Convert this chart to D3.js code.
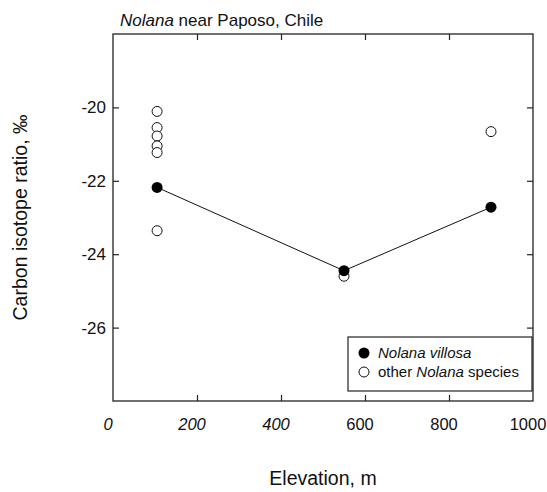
<!DOCTYPE html>
<html lang="en">
<head>
<meta charset="utf-8">
<title>Nolana near Paposo</title>
<script src="https://cdn.jsdelivr.net/npm/d3@7"></script>
<style>
  body { margin: 0; background: #fff; }
  text { font-family: "Liberation Sans", Arial, sans-serif; fill: #111; }
  .frame { fill: none; stroke: #222; stroke-width: 1.3px; }
  .tick line { stroke: #222; stroke-width: 1.2px; }
</style>
</head>
<body>
<script>

// elevation (m) and carbon isotope ratio (per mil)
var villosaElev = [105, 550, 900];
var villosaD13C = [-22.18, -24.45, -22.72];

var otherElev = [105, 105, 105, 105, 105, 105, 550, 900];
var otherD13C = [-20.11, -20.55, -20.78, -21.05, -21.23, -23.36, -24.6, -20.66];

var xTicks = [0, 200, 400, 600, 800, 1000];
var yTicks = [-20, -22, -24, -26];

var w = 547, h = 492;
var m = {l: 113, r: 533, t: 34, b: 401};

var x = d3.scaleLinear().domain([0, 1000]).range([m.l, m.r]);
var y = d3.scaleLinear().domain([-28, -18]).range([m.b, m.t]);

var svg = d3.select("body").append("svg")
    .attr("width", w)
    .attr("height", h);

// ticks pointing inward on all four sides
var tl = 6;
function noDomain(g){ g.select(".domain").remove(); }
svg.append("g").attr("transform", "translate(0," + m.b + ")")
  .call(d3.axisTop(x).tickValues(xTicks.slice(1, -1)).tickSize(tl).tickFormat(""))
  .call(noDomain);
svg.append("g").attr("transform", "translate(0," + m.t + ")")
  .call(d3.axisBottom(x).tickValues(xTicks.slice(1, -1)).tickSize(tl).tickFormat(""))
  .call(noDomain);
svg.append("g").attr("transform", "translate(" + m.l + ",0)")
  .call(d3.axisRight(y).tickValues(yTicks).tickSize(tl).tickFormat(""))
  .call(noDomain);
svg.append("g").attr("transform", "translate(" + m.r + ",0)")
  .call(d3.axisLeft(y).tickValues(yTicks).tickSize(tl).tickFormat(""))
  .call(noDomain);

svg.append("rect").attr("class", "frame")
  .attr("x", m.l).attr("y", m.t)
  .attr("width", m.r - m.l).attr("height", m.b - m.t);

// tick labels
svg.selectAll(".xl").data(xTicks).enter().append("text")
  .attr("x", function(d){ return x(d) - 5; })
  .attr("y", 430)
  .attr("text-anchor", "middle")
  .style("font-size", "16.5px")
  .style("font-style", function(d){ return d < 500 ? "italic" : "normal"; })
  .text(function(d){ return d; });

svg.selectAll(".yl").data(yTicks).enter().append("text")
  .attr("x", 106)
  .attr("y", function(d){ return y(d) + 6; })
  .attr("text-anchor", "end")
  .style("font-size", "17px")
  .text(function(d){ return d; });

// titles
var title = svg.append("text").attr("x", 120).attr("y", 26).style("font-size", "17px");
title.append("tspan").style("font-style", "italic").text("Nolana");
title.append("tspan").text(" near Paposo, Chile");

svg.append("text")
  .attr("x", (m.l + m.r) / 2).attr("y", 485)
  .attr("text-anchor", "middle")
  .style("font-size", "19.5px")
  .text("Elevation, m");

svg.append("text")
  .attr("transform", "translate(27," + ((m.t + m.b) / 2) + ") rotate(-90)")
  .attr("text-anchor", "middle")
  .style("font-size", "19.5px")
  .text("Carbon isotope ratio, \u2030");

// connecting line for N. villosa
var line = d3.line()
  .x(function(d){ return x(d[0]); })
  .y(function(d){ return y(d[1]); });
svg.append("path")
  .datum(d3.zip(villosaElev, villosaD13C))
  .attr("d", line)
  .attr("fill", "none")
  .attr("stroke", "#111")
  .attr("stroke-width", 1);

svg.selectAll(".other").data(d3.zip(otherElev, otherD13C)).enter().append("circle")
  .attr("cx", function(d){ return x(d[0]); })
  .attr("cy", function(d){ return y(d[1]); })
  .attr("r", 5)
  .attr("fill", "#fff")
  .attr("stroke", "#111")
  .attr("stroke-width", 1);

svg.selectAll(".villosa").data(d3.zip(villosaElev, villosaD13C)).enter().append("circle")
  .attr("cx", function(d){ return x(d[0]); })
  .attr("cy", function(d){ return y(d[1]); })
  .attr("r", 5.5)
  .attr("fill", "#000");

// legend
var lg = svg.append("g");
lg.append("rect")
  .attr("x", 348).attr("y", 337).attr("width", 184).attr("height", 54)
  .attr("fill", "#fff").attr("stroke", "#222").attr("stroke-width", 1.2);
lg.append("circle").attr("cx", 364).attr("cy", 353).attr("r", 5.5).attr("fill", "#000");
lg.append("circle").attr("cx", 364).attr("cy", 372).attr("r", 5)
  .attr("fill", "#fff").attr("stroke", "#111").attr("stroke-width", 1);
lg.append("text").attr("x", 378).attr("y", 358).style("font-size", "15px")
  .style("font-style", "italic").text("Nolana villosa");
var t2 = lg.append("text").attr("x", 378).attr("y", 377).style("font-size", "15px");
t2.append("tspan").text("other ");
t2.append("tspan").style("font-style", "italic").text("Nolana");
t2.append("tspan").text(" species");

</script>
</body>
</html>
